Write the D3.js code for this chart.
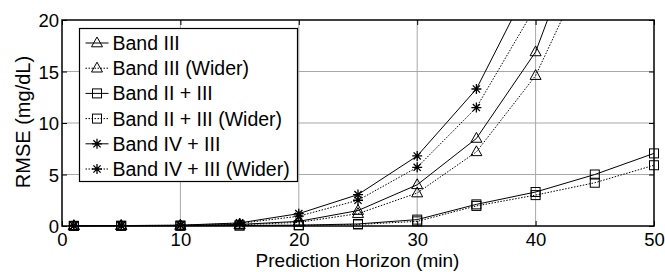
<!DOCTYPE html>
<html>
<head>
<meta charset="utf-8">
<script src="https://cdn.jsdelivr.net/npm/d3@7/dist/d3.min.js"></script>
<style>
  body { margin: 0; background: #fff; }
  svg text { font-family: Arial, "Liberation Sans", sans-serif; fill: #000; }
</style>
</head>
<body>
<div id="chart"></div>
<script>
// prediction horizons (min)
var horizons = [1, 5, 10, 15, 20, 25, 30, 35, 40, 45, 50];
// RMSE (mg/dL); null = not readable (off the top of the plot)
var band3      = [0.02, 0.03, 0.05, 0.15, 0.45, 1.5, 4.0, 8.5, 16.9, 32.3, null];
var band3Wide  = [0.02, 0.03, 0.05, 0.12, 0.35, 1.2, 3.2, 7.2, 14.6, 26.9, null];
var band23     = [0.01, 0.02, 0.03, 0.05, 0.08, 0.2, 0.62, 2.1, 3.3, 5.0, 7.05];
var band23Wide = [0.01, 0.02, 0.03, 0.05, 0.07, 0.15, 0.45, 1.95, 3.0, 4.2, 5.9];
var band43     = [0.03, 0.04, 0.08, 0.3, 1.2, 3.05, 6.8, 13.3, 24.6, null, null];
var band43Wide = [0.03, 0.04, 0.07, 0.25, 0.95, 2.5, 5.7, 11.5, 21.3, null, null];

var seriesNames = ["Band III", "Band III (Wider)", "Band II + III", "Band II + III (Wider)", "Band IV + III", "Band IV + III (Wider)"];
var seriesValues = [band3, band3Wide, band23, band23Wide, band43, band43Wide];
var seriesMarkers = ["tri", "tri", "sq", "sq", "star", "star"];
var seriesDotted = [false, true, false, true, false, true];

var xTicks = [0, 10, 20, 30, 40, 50];
var yTicks = [0, 5, 10, 15, 20];

var W = 665, H = 272;
var m = {top: 20, right: 11, bottom: 46, left: 62};
var pw = W - m.left - m.right, ph = H - m.top - m.bottom;

var x = d3.scaleLinear().domain([0, 50]).range([0, pw]);
var y = d3.scaleLinear().domain([0, 20]).range([ph, 0]);

var svg = d3.select("#chart").append("svg")
    .attr("width", W)
    .attr("height", H);

var g = svg.append("g")
    .attr("transform", "translate(" + m.left + "," + m.top + ")");

svg.append("defs").append("clipPath")
    .attr("id", "plotclip")
  .append("rect")
    .attr("x", -6).attr("y", 0)
    .attr("width", pw + 12).attr("height", ph + 6);

// grid
g.append("g").selectAll("line")
    .data(xTicks.slice(1, -1))
    .enter().append("line")
    .attr("x1", function (d) { return x(d); })
    .attr("x2", function (d) { return x(d); })
    .attr("y1", 0).attr("y2", ph)
    .attr("stroke", "#a8a8a8").attr("stroke-width", 1);
g.append("g").selectAll("line")
    .data(yTicks.slice(1, -1))
    .enter().append("line")
    .attr("y1", function (d) { return y(d); })
    .attr("y2", function (d) { return y(d); })
    .attr("x1", 0).attr("x2", pw)
    .attr("stroke", "#a8a8a8").attr("stroke-width", 1);

// axes with inward ticks on all sides
function styleAxis(sel) {
    sel.select(".domain").remove();
    sel.selectAll(".tick line").attr("stroke", "#000");
    sel.selectAll(".tick text").style("font-size", "18.5px");
}
g.append("g").attr("transform", "translate(0," + ph + ")")
    .call(d3.axisBottom(x).tickValues(xTicks).tickSizeInner(-5).tickSizeOuter(0).tickPadding(6))
    .call(styleAxis)
    .selectAll(".tick text").attr("y", 19.5).attr("dy", null);
g.append("g")
    .call(d3.axisTop(x).tickValues(xTicks).tickSizeInner(-5).tickSizeOuter(0).tickFormat(""))
    .call(styleAxis);
g.append("g")
    .call(d3.axisLeft(y).tickValues(yTicks).tickSizeInner(-5).tickSizeOuter(0).tickPadding(2))
    .call(styleAxis)
    .selectAll(".tick text").attr("x", -3).attr("dy", "0.36em");
g.append("g").attr("transform", "translate(" + pw + ",0)")
    .call(d3.axisRight(y).tickValues(yTicks).tickSizeInner(-5).tickSizeOuter(0).tickFormat(""))
    .call(styleAxis);

// markers
function marker(sel, type) {
    if (type === "tri") {
        sel.append("path").attr("d", "M0,-6L-5.5,3.8L5.5,3.8Z")
            .attr("fill", "none").attr("stroke", "#000").attr("stroke-width", 1);
    } else if (type === "sq") {
        sel.append("rect").attr("x", -4.5).attr("y", -4.5).attr("width", 9).attr("height", 9)
            .attr("fill", "none").attr("stroke", "#000").attr("stroke-width", 1);
    } else {
        sel.append("path").attr("d", "M0,-5V5M-5,0H5M-3.6,-3.6L3.6,3.6M-3.6,3.6L3.6,-3.6")
            .attr("fill", "none").attr("stroke", "#000").attr("stroke-width", 1.3);
    }
}

var line = d3.line()
    .defined(function (d) { return d[1] !== null; })
    .x(function (d) { return x(d[0]); })
    .y(function (d) { return y(d[1]); });

var plot = g.append("g").attr("clip-path", "url(#plotclip)");

seriesValues.forEach(function (vals, i) {
    var pts = horizons.map(function (h, j) { return [h, vals[j]]; });
    plot.append("path")
        .datum(pts)
        .attr("d", line)
        .attr("fill", "none")
        .attr("stroke", "#000")
        .attr("stroke-width", 1)
        .attr("stroke-dasharray", seriesDotted[i] ? "1.5,1.5" : null);
    plot.selectAll(".m" + i)
        .data(pts.filter(function (d) { return d[1] !== null; }))
        .enter().append("g")
        .attr("class", "m" + i)
        .attr("transform", function (d) { return "translate(" + x(d[0]) + "," + y(d[1]) + ")"; })
        .each(function () { marker(d3.select(this), seriesMarkers[i]); });
});

// box
g.append("rect")
    .attr("width", pw).attr("height", ph)
    .attr("fill", "none").attr("stroke", "#000").attr("stroke-width", 1.5);

// legend
var lg = svg.append("g").attr("transform", "translate(79.5,28.5)");
lg.append("rect")
    .attr("width", 218).attr("height", 153)
    .attr("fill", "#fff").attr("stroke", "#000").attr("stroke-width", 1.2);
seriesNames.forEach(function (name, i) {
    var row = lg.append("g").attr("transform", "translate(0," + (14.5 + i * 25.2) + ")");
    row.append("line")
        .attr("x1", 6).attr("x2", 29).attr("y1", 0).attr("y2", 0)
        .attr("stroke", "#000").attr("stroke-width", 1)
        .attr("stroke-dasharray", seriesDotted[i] ? "1.5,1.5" : null);
    var mk = row.append("g").attr("transform", "translate(17.5,0)");
    marker(mk, seriesMarkers[i]);
    row.append("text")
        .attr("x", 33).attr("y", 0).attr("dy", "0.36em")
        .style("font-size", "19.5px")
        .text(name);
});

// axis titles
svg.append("text")
    .attr("x", 357.5).attr("y", 267)
    .attr("text-anchor", "middle")
    .style("font-size", "19px")
    .text("Prediction Horizon (min)");
svg.append("text")
    .attr("transform", "translate(30,122) rotate(-90)")
    .attr("text-anchor", "middle")
    .style("font-size", "20px")
    .text("RMSE (mg/dL)");
</script>
</body>
</html>
